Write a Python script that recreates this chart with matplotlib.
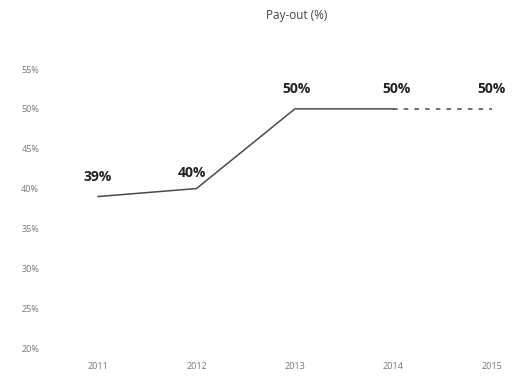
import matplotlib.pyplot as plt

# Pay-out ratio per year
years = [2011, 2012, 2013, 2014, 2015]
payout = [0.39, 0.40, 0.50, 0.50, 0.50]
labels = ["39%", "40%", "50%", "50%", "50%"]
yticks = [0.20, 0.25, 0.30, 0.35, 0.40, 0.45, 0.50, 0.55]

plt.rcParams['font.family'] = ['Open Sans', 'DejaVu Sans']

fig = plt.figure(figsize=(5.13, 3.81), dpi=100)
ax = fig.add_axes([60 / 513, 1 - 348 / 381, 445 / 513, (348 - 69) / 381])

# actual years solid, forecast year dashed
ax.plot(years[:4], payout[:4], color="#4a4a4a", lw=1.1)
ax.plot(years[3:], payout[3:], color="#4a4a4a", lw=1.1, ls=(0, (3, 4)))

label_dx = [0, -3, 1, 2, 0]
label_dy = [9, 6, 9, 9, 9]
for x, y, t, dx, dy in zip(years, payout, labels, label_dx, label_dy):
    ax.annotate(t, (x, y), xytext=(dx, dy), textcoords="offset points",
                ha="center", va="bottom", fontsize=10, fontweight="bold", color="#222222")

ax.set_xlim(2010.614, 2015.134)
ax.set_ylim(0.20, 0.55)
ax.set_xticks(years)
ax.set_xticklabels([str(y) for y in years])
ax.set_yticks(yticks)
ax.set_yticklabels([f"{int(round(v * 100))}%" for v in yticks])
ax.tick_params(axis="both", length=0, labelsize=6.5, labelcolor="#777777")
ax.tick_params(axis="y", pad=15)
ax.tick_params(axis="x", pad=10)
for s in ax.spines.values():
    s.set_visible(False)

fig.text(297 / 513, 1 - 15 / 381, "Pay-out (%)", ha="center", va="center",
         fontsize=8.5, color="#444444")

fig.savefig("out.png", dpi=100)
